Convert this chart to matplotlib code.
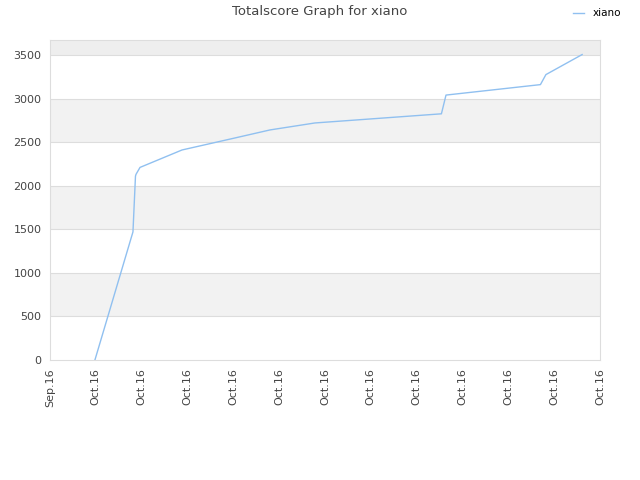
import matplotlib
matplotlib.use("Agg")
import matplotlib.pyplot as plt

# data (x in tick-interval units from Sep.16 tick)
x_vals = [0.98, 1.81, 1.865, 1.876, 1.964, 2.88, 3.97, 4.80, 5.78, 8.54, 8.64, 10.70, 10.82, 11.61]
scores = [0, 1470, 2110, 2130, 2210, 2410, 2540, 2640, 2720, 2825, 3040, 3160, 3275, 3505]
tick_labels = ["Sep.16"] + ["Oct.16"] * 12
y_ticks = [0, 500, 1000, 1500, 2000, 2500, 3000, 3500]

fig = plt.figure(figsize=(6.4, 4.8), dpi=100)
ax = fig.add_axes([50/640, 1-360/480, 550/640, 320/480])

ymax = 3672
# bands
for lo in [500, 1500, 2500]:
    ax.axhspan(lo, lo+500, color="#f2f2f2", zorder=0, lw=0)
ax.axhspan(3500, ymax, color="#eeeeee", zorder=0, lw=0)
for yv in y_ticks[1:]:
    ax.axhline(yv, color="#dddddd", lw=0.8, zorder=1)

ax.plot(x_vals, scores, color="#90c0f0", lw=1.0, label="xiano", zorder=3)

ax.set_xlim(0, 12)
ax.set_ylim(0, ymax)
ax.set_xticks(range(13))
ax.set_xticklabels(tick_labels, rotation=90, fontsize=8, color="#444444")
ax.set_yticks(y_ticks)
ax.set_yticklabels([str(v) for v in y_ticks], fontsize=8, color="#444444")
ax.tick_params(length=0, pad=6)
for s in ax.spines.values():
    s.set_color("#dddddd")

fig.text(0.5, 1-12/480, "Totalscore Graph for xiano", ha="center", va="center", fontsize=9.5, color="#444444")
leg = fig.legend(loc="upper right", bbox_to_anchor=(627/640, 1-2/480), frameon=False, fontsize=7.5,
                 handlelength=1.0, handletextpad=0.8, borderaxespad=0.2)

fig.savefig("out.png", dpi=100)
